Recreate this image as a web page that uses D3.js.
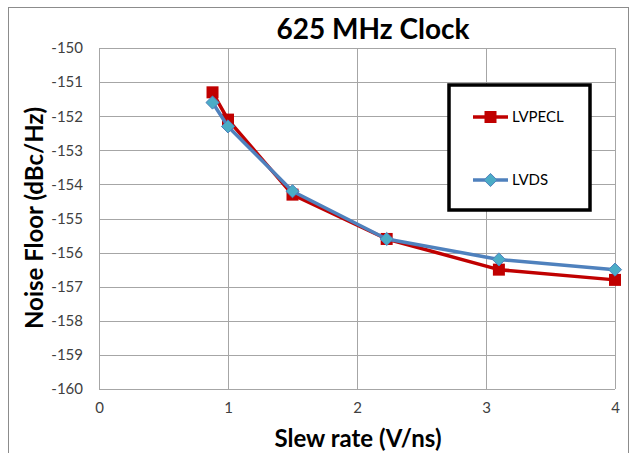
<!DOCTYPE html>
<html>
<head>
<meta charset="utf-8">
<script src="https://cdn.jsdelivr.net/npm/d3@7"></script>
<style>
  body { margin: 0; background: #fff; }
  text { font-family: Lato, "Open Sans", sans-serif; }
</style>
</head>
<body>
<svg id="chart" width="636" height="453"></svg>
<script>
// data
const slewRates = [0.88, 1.0, 1.5, 2.23, 3.1, 4.0];
const lvpecl = [-151.3, -152.1, -154.3, -155.6, -156.5, -156.8];
const lvds = [-151.6, -152.3, -154.2, -155.6, -156.2, -156.5];
const seriesNames = ["LVPECL", "LVDS"];
const xTicks = [0, 1, 2, 3, 4];
const yTicks = [-150, -151, -152, -153, -154, -155, -156, -157, -158, -159, -160];

const svg = d3.select("svg#chart");

// outer chart frame
svg.append("rect")
    .attr("x", 8.5).attr("y", 7.5)
    .attr("width", 620).attr("height", 470)
    .attr("fill", "none")
    .attr("stroke", "#8c8c8c")
    .attr("stroke-width", 1);

const x = d3.scaleLinear().domain([0, 4]).range([99, 615]);
const y = d3.scaleLinear().domain([-160, -150]).range([389, 48]);

// gridlines
const grid = svg.append("g").attr("stroke", "#a6a6a6").attr("stroke-width", 1);
grid.selectAll("line.h")
    .data(yTicks)
    .join("line")
    .attr("class", "h")
    .attr("x1", x(0)).attr("x2", x(4))
    .attr("y1", d => Math.round(y(d)) + 0.5)
    .attr("y2", d => Math.round(y(d)) + 0.5);
grid.selectAll("line.v")
    .data(xTicks)
    .join("line")
    .attr("class", "v")
    .attr("y1", y(-150)).attr("y2", y(-160))
    .attr("x1", d => Math.round(x(d)) + 0.5)
    .attr("x2", d => Math.round(x(d)) + 0.5);

// axes (labels only, lines come from the grid)
const yAxis = svg.append("g")
    .attr("transform", `translate(${x(0)},0)`)
    .call(d3.axisLeft(y).tickValues(yTicks).tickSize(0).tickPadding(16).tickFormat(d => String(d)));
const xAxis = svg.append("g")
    .attr("transform", `translate(0,${y(-160)})`)
    .call(d3.axisBottom(x).tickValues(xTicks).tickSize(0).tickPadding(13).tickFormat(d => String(d)));
[yAxis, xAxis].forEach(a => {
  a.select(".domain").remove();
  a.selectAll("text")
      .attr("font-family", "Lato, 'Open Sans', sans-serif")
      .attr("font-size", 15)
      .attr("fill", "#404040");
});

// title and axis titles
svg.append("text")
    .attr("x", 373).attr("y", 39)
    .attr("text-anchor", "middle")
    .attr("font-size", 28).attr("font-weight", "bold")
    .attr("fill", "#000")
    .text("625 MHz Clock");

svg.append("text")
    .attr("x", 358).attr("y", 447)
    .attr("text-anchor", "middle")
    .attr("font-size", 24).attr("font-weight", "bold")
    .text("Slew rate (V/ns)");

svg.append("text")
    .attr("transform", "translate(43,218) rotate(-90)")
    .attr("text-anchor", "middle")
    .attr("font-size", 24).attr("font-weight", "bold")
    .text("Noise Floor (dBc/Hz)");

// series
const line = d3.line().x(d => x(d[0])).y(d => y(d[1]));
const pecl = d3.zip(slewRates, lvpecl);
const lv = d3.zip(slewRates, lvds);

svg.append("path")
    .datum(pecl)
    .attr("d", line)
    .attr("fill", "none")
    .attr("stroke", "#c00000")
    .attr("stroke-width", 3.5)
    .attr("stroke-linejoin", "round");
svg.append("g")
    .selectAll("rect")
    .data(pecl)
    .join("rect")
    .attr("x", d => x(d[0]) - 6)
    .attr("y", d => y(d[1]) - 6)
    .attr("width", 12).attr("height", 12)
    .attr("fill", "#c00000");

const diamond = d3.symbol().type(d3.symbolDiamond2).size(110);

svg.append("path")
    .datum(lv)
    .attr("d", line)
    .attr("fill", "none")
    .attr("stroke", "#4f81bd")
    .attr("stroke-width", 3.5)
    .attr("stroke-linejoin", "round");
svg.append("g")
    .selectAll("path")
    .data(lv)
    .join("path")
    .attr("d", diamond)
    .attr("transform", d => `translate(${x(d[0])},${y(d[1])})`)
    .attr("fill", "#4bacc6")
    .attr("stroke", "#4f81bd")
    .attr("stroke-width", 1);

// legend
const legend = svg.append("g");
legend.append("rect")
    .attr("x", 449).attr("y", 85)
    .attr("width", 141).attr("height", 125)
    .attr("fill", "#fff")
    .attr("stroke", "#000")
    .attr("stroke-width", 3.5);

const legendRows = [
  { name: seriesNames[0], y: 117, color: "#c00000" },
  { name: seriesNames[1], y: 180, color: "#4f81bd" }
];
legendRows.forEach((r, i) => {
  legend.append("line")
      .attr("x1", 473).attr("x2", 508)
      .attr("y1", r.y).attr("y2", r.y)
      .attr("stroke", r.color).attr("stroke-width", 3.5);
  if (i === 0) {
    legend.append("rect")
        .attr("x", 484.5).attr("y", r.y - 6)
        .attr("width", 12).attr("height", 12)
        .attr("fill", "#c00000");
  } else {
    legend.append("path")
        .attr("d", diamond)
        .attr("transform", `translate(490.5,${r.y})`)
        .attr("fill", "#4bacc6")
        .attr("stroke", "#4f81bd");
  }
  legend.append("text")
      .attr("x", 512).attr("y", r.y + 5)
      .attr("font-size", 15)
      .attr("fill", "#000")
      .text(r.name);
});
</script>
</body>
</html>
